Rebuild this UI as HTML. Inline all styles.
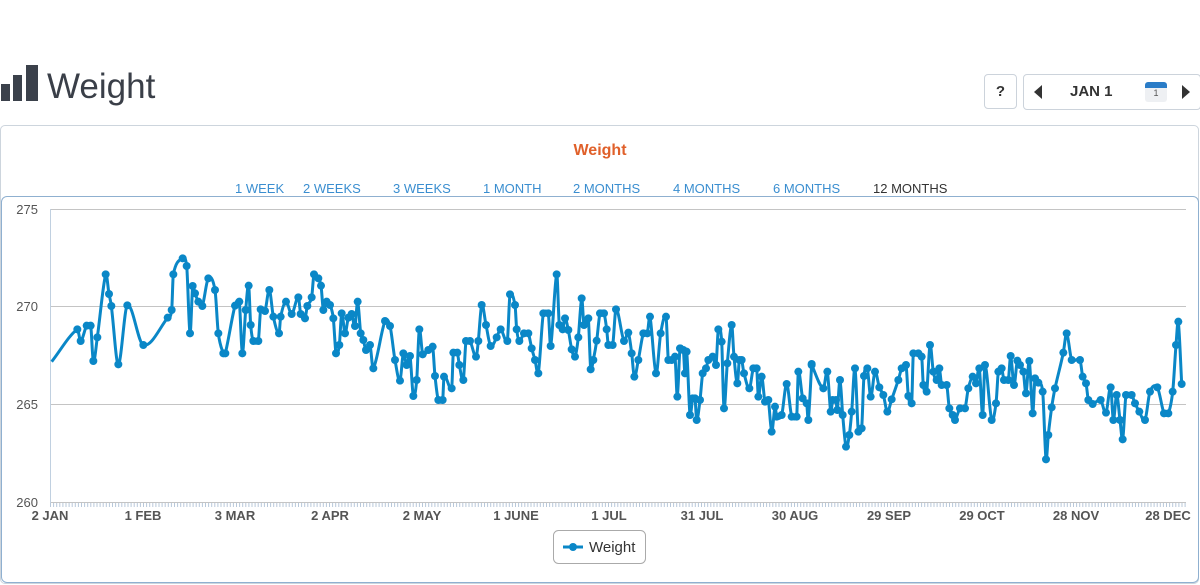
<!DOCTYPE html>
<html><head><meta charset="utf-8"><style>
body{margin:0;width:1200px;height:585px;background:#fff;font-family:"Liberation Sans",sans-serif;position:relative;overflow:hidden}
.a{position:absolute}
.tab{position:absolute;top:181px;font-size:13px;color:#3a8ed0}
</style></head><body>
<div class="a" style="left:1px;top:84px;width:9px;height:17px;background:#3b414b"></div>
<div class="a" style="left:13px;top:75px;width:9px;height:26px;background:#3b414b"></div>
<div class="a" style="left:26px;top:65px;width:12px;height:36px;background:#3b414b"></div>
<div class="a" style="left:47px;top:67px;font-size:35px;color:#3a3f48">Weight</div>
<div class="a" style="left:984px;top:74px;width:31px;height:33px;border:1px solid #ccd3db;border-radius:4px;text-align:center;line-height:33px;font-weight:bold;font-size:15px;color:#333">?</div>
<div class="a" style="left:1023px;top:74px;width:176px;height:34px;border:1px solid #ccd3db;border-radius:4px"></div>
<div class="a" style="left:1034px;top:85px;width:0;height:0;border-top:7px solid transparent;border-bottom:7px solid transparent;border-right:8px solid #333"></div>
<div class="a" style="left:1070px;top:83px;font-weight:bold;font-size:15px;color:#333">JAN 1</div>
<div class="a" style="left:1145px;top:82px;width:22px;height:20px;border-radius:3px;background:#eef0f3;border-top:6px solid #2a7cc7;box-sizing:border-box;font-size:9px;text-align:center;color:#555">1</div>
<div class="a" style="left:1182px;top:85px;width:0;height:0;border-top:7px solid transparent;border-bottom:7px solid transparent;border-left:8px solid #333"></div>
<div class="a" style="left:0;top:125px;width:1197px;height:457px;border:1px solid #cdd5dd;border-radius:5px"></div>
<div class="a" style="left:1px;top:196px;width:1196px;height:385px;border:1px solid #8fb0d0;border-radius:6px"></div>
<div class="a" style="left:0;top:142px;width:1200px;text-align:center;font-weight:bold;font-size:16px;color:#e0602a">Weight</div>
<span class="tab" style="left:235px">1 WEEK</span><span class="tab" style="left:303px">2 WEEKS</span><span class="tab" style="left:393px">3 WEEKS</span><span class="tab" style="left:483px">1 MONTH</span><span class="tab" style="left:573px">2 MONTHS</span><span class="tab" style="left:673px">4 MONTHS</span><span class="tab" style="left:773px">6 MONTHS</span><span class="tab" style="left:873px;color:#333">12 MONTHS</span>
<svg class="a" style="left:0;top:0" width="1200" height="585" id="s">
<g stroke="#c4c4c4" stroke-width="1">
<line x1="50" x2="1186" y1="209.5" y2="209.5"/><line x1="50" x2="1186" y1="306.5" y2="306.5"/><line x1="50" x2="1186" y1="404.5" y2="404.5"/><line x1="50" x2="1186" y1="502.5" y2="502.5"/>
</g>
<line x1="50.5" x2="50.5" y1="209" y2="503" stroke="#c0d0e0"/>
<g font-size="13" fill="#555" text-anchor="end" font-family="Liberation Sans">
<text x="38" y="214">275</text><text x="38" y="311">270</text><text x="38" y="409">265</text><text x="38" y="507">260</text></g>
<g id="ticks" stroke="#b8c8da" stroke-width="1"></g>
<g font-size="13" font-weight="bold" fill="#555" text-anchor="middle" font-family="Liberation Sans">
<text x="50" y="520">2 JAN</text><text x="143" y="520">1 FEB</text><text x="235" y="520">3 MAR</text><text x="330" y="520">2 APR</text><text x="422" y="520">2 MAY</text><text x="516" y="520">1 JUNE</text><text x="609" y="520">1 JUL</text><text x="702" y="520">31 JUL</text><text x="795" y="520">30 AUG</text><text x="889" y="520">29 SEP</text><text x="982" y="520">29 OCT</text><text x="1076" y="520">28 NOV</text><text x="1168" y="520">28 DEC</text></g>
<path id="ln" fill="none" stroke="#0a87c7" stroke-width="3" stroke-linejoin="round"/>
<g id="dots" fill="#0a87c7"></g>
<rect x="553.5" y="530.5" width="92" height="33" rx="5" fill="#fff" stroke="#aaa"/>
<line x1="563" x2="583" y1="547" y2="547" stroke="#0a87c7" stroke-width="3"/><circle cx="573" cy="547" r="4" fill="#0a87c7"/>
<text x="589" y="552" font-size="15" fill="#333" font-family="Liberation Sans">Weight</text>
</svg>
<script>
var z4=[35,365,112,268,122,303,140,257,152,257,160,363,172,292,197,103,207,162,214,198,235,373,262,196,310,315,383,233,395,210,400,103,428,55,440,78,450,280,458,138,465,160,475,185,487,198,505,115,525,150,535,280,550,340,556,340,585,197,598,185,607,340,617,210,626,137,632,255,640,303,655,303,662,208,675,213,688,150,700,230,717,280,722,230,738,185,755,222,775,172,782,222,795,235,802,198,815,172,822,103,835,115,843,137,850,210,860,185,870,195,880,235,888,340,898,315,905,220,915,280,925,233,935,222,945,258,953,185,962,280,970,300,978,330,990,315,1000,385,1035,243,1050,258,1065,360,1080,422,1090,340,1100,375,1110,348,1120,468,1130,420,1138,268,1148,343,1165,330,1178,320,1185,408,1195,480];
var z5=[68,420,72,350,95,385,100,278,112,278,118,315,130,360,138,243,150,243,168,290,175,243,185,135,198,195,212,258,230,232,242,208,262,243,270,103,285,135,290,208,298,243,312,220,325,220,335,265,345,300,355,340,370,160,385,160,392,258,410,43,418,195,428,208,435,175,445,210,455,268,465,290,475,232,485,115,492,195,505,175,512,328,520,300,530,242,540,160,552,160,560,208,565,255,578,255,588,148,612,243,625,218,635,280,643,350,655,300,670,220,682,220,690,170,708,340,722,220,738,170,745,300,755,300,765,290,772,410,780,265,790,270,795,340,800,275,810,465,818,415,825,415,830,480,840,420,848,340,858,325,865,300,878,290,888,315,895,208,905,245,912,445,922,310,935,195,942,290,952,370,958,300,965,300,972,340,988,385,1000,325,1010,325,1015,410,1025,350,1035,425,1045,420,1055,515,1065,440,1070,470,1085,465,1100,372,1115,470,1130,470,1135,335,1148,415,1160,430,1165,480,1175,312];
var z6=[35,195,70,265,82,215,92,335,98,300,108,300,112,330,120,240,128,345,138,440,148,405,155,335,165,205,175,395,185,385,192,228,202,205,212,290,225,215,238,262,250,285,262,335,275,298,295,240,305,205,318,195,325,288,335,310,340,160,355,160,365,170,370,255,380,275,390,135,400,215,410,240,418,205,425,255,440,255,448,325,458,345,465,360,480,325,495,325,505,265,518,230,528,250,538,205,548,345,555,195,575,360,588,310,595,215,605,205,612,240,625,240,632,168,642,255,652,182,660,195,670,215,678,280,688,183,698,340,705,235,715,248,728,275,738,478,745,405,755,322,765,265,790,158,800,100,815,180,840,180,848,230,858,250,865,300,878,312,902,300,918,338,932,262,940,360,950,285,960,360,968,418,978,285,995,285,1005,310,1018,335,1035,360,1050,275,1072,262,1092,340,1105,340,1118,275,1128,135,1135,65,1145,252];
var pts=[];function add(a,ox,oy){for(var i=0;i<a.length;i+=2)pts.push([ox+a[i]/3,oy+a[i+1]/3]);}
add(z4,40,240);add(z5,420,260);add(z6,800,300);
var ns="http://www.w3.org/2000/svg";
var s=1.5,dd='M'+pts[0][0]+','+pts[0][1];
for(var i=0;i<pts.length-1;i++){var p0=pts[Math.max(i-1,0)],p1=pts[i],p2=pts[i+1],p3=pts[Math.min(i+2,pts.length-1)];
var dx=p2[0]-p1[0];
var m1=(p2[1]-p0[1])/((p2[0]-p0[0])||1),m2=(p3[1]-p1[1])/((p3[0]-p1[0])||1);
var lo=Math.min(p1[1],p2[1]),hi=Math.max(p1[1],p2[1]);
var c1y=p1[1]+m1*dx/3,c2y=p2[1]-m2*dx/3;
c1y=Math.max(lo-3,Math.min(hi+3,c1y));c2y=Math.max(lo-3,Math.min(hi+3,c2y));
dd+=' C'+(p1[0]+dx/3).toFixed(1)+','+c1y.toFixed(1)+' '+(p2[0]-dx/3).toFixed(1)+','+c2y.toFixed(1)+' '+p2[0].toFixed(1)+','+p2[1].toFixed(1);}
document.getElementById('ln').setAttribute('d',dd);
var d=document.getElementById('dots');
pts.forEach(function(p,i){if(i==0)return;var c=document.createElementNS(ns,'circle');c.setAttribute('cx',p[0]);c.setAttribute('cy',p[1]);c.setAttribute('r',4);d.appendChild(c);});
var t=document.getElementById('ticks');
for(var x=50.5;x<1186;x+=3.1){var l=document.createElementNS(ns,'line');l.setAttribute('x1',x);l.setAttribute('x2',x);l.setAttribute('y1',503);l.setAttribute('y2',507);t.appendChild(l);}
</script>
</body></html>
